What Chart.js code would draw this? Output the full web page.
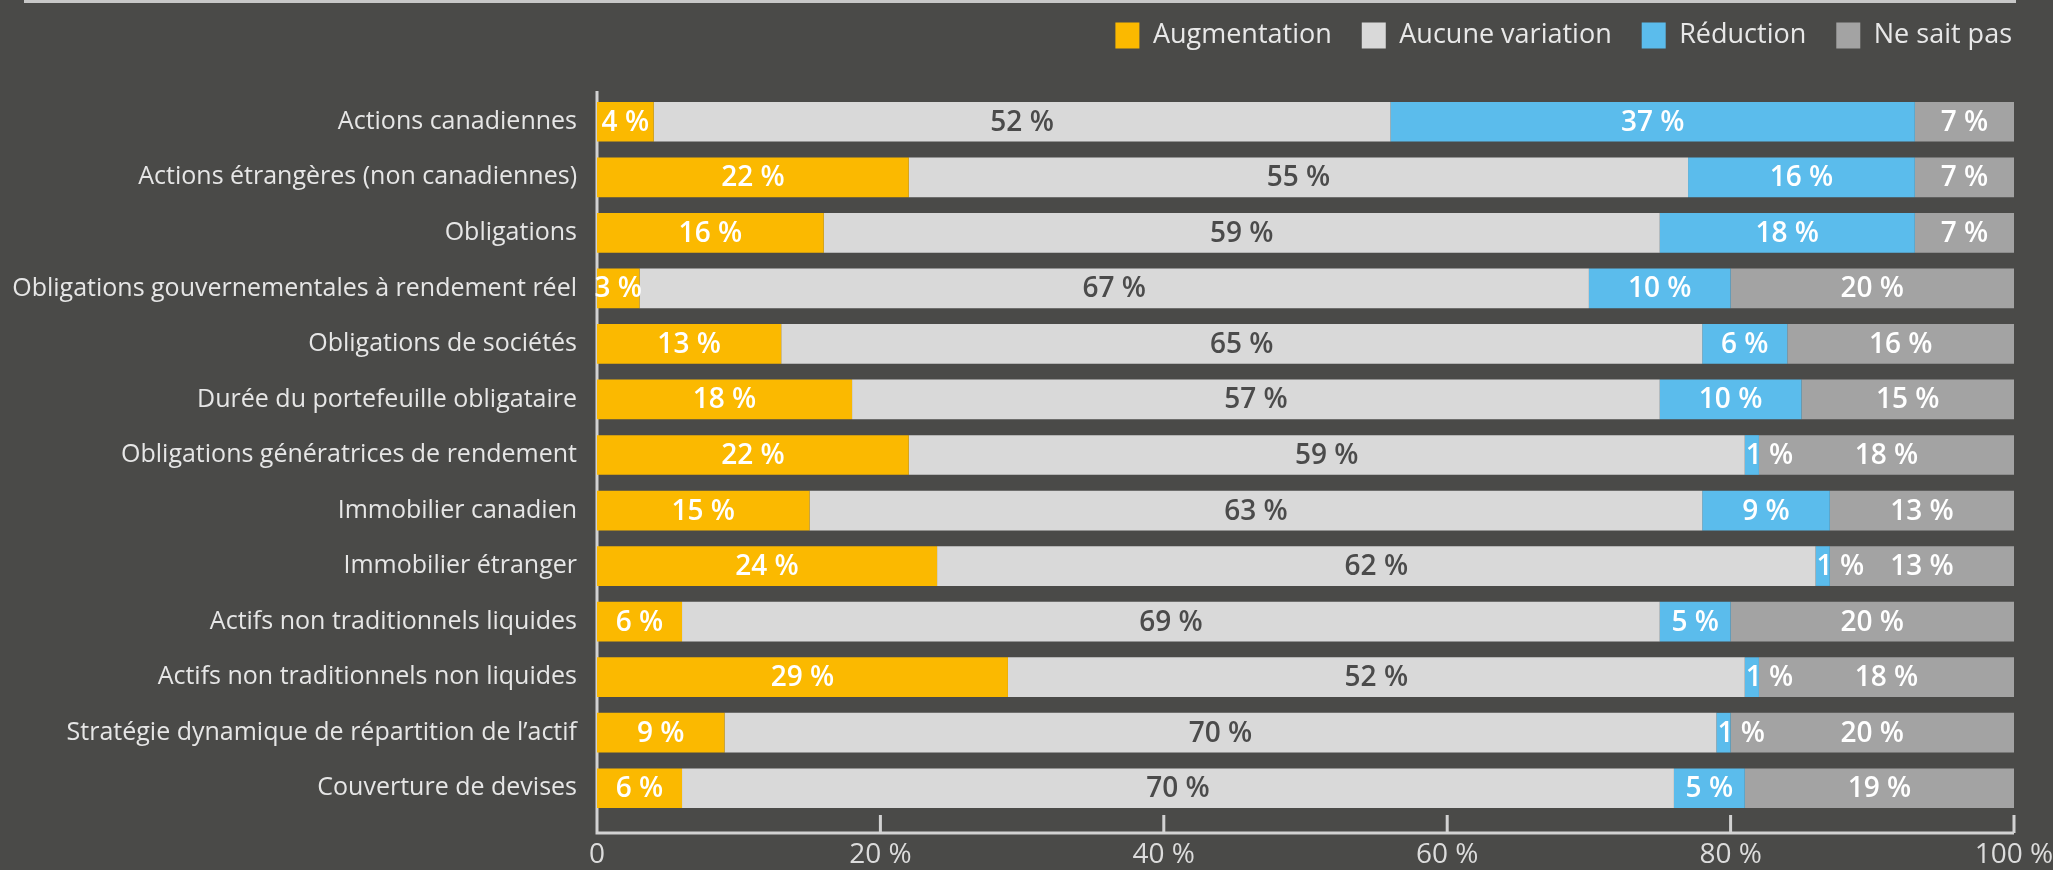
<!DOCTYPE html>
<html>
<head>
<meta charset="utf-8">
<script src="https://cdn.jsdelivr.net/npm/chart.js@4.4.0/dist/chart.umd.min.js"></script>
<style>
  html, body { margin: 0; padding: 0; background: #4a4a48; }
  #wrap { width: 2053px; height: 870px; }
</style>
</head>
<body>
<div id="wrap"><canvas id="chart" width="2053" height="870"></canvas></div>
<script>
const categories = [
    'Actions canadiennes',
    'Actions étrangères (non canadiennes)',
    'Obligations',
    'Obligations gouvernementales à rendement réel',
    'Obligations de sociétés',
    'Durée du portefeuille obligataire',
    'Obligations génératrices de rendement',
    'Immobilier canadien',
    'Immobilier étranger',
    'Actifs non traditionnels liquides',
    'Actifs non traditionnels non liquides',
    'Stratégie dynamique de répartition de l’actif',
    'Couverture de devises'
];
const augmentation    = [4, 22, 16, 3, 13, 18, 22, 15, 24, 6, 29, 9, 6];
const aucuneVariation = [52, 55, 59, 67, 65, 57, 59, 63, 62, 69, 52, 70, 70];
const reduction       = [37, 16, 18, 10, 6, 10, 1, 9, 1, 5, 1, 1, 5];
const neSaitPas       = [7, 7, 7, 20, 16, 15, 18, 13, 13, 20, 18, 20, 19];

const seriesNames  = ['Augmentation', 'Aucune variation', 'Réduction', 'Ne sait pas'];
const seriesValues = [augmentation, aucuneVariation, reduction, neSaitPas];
const seriesColors = ['#fbb900', '#d9d9d9', '#5bbcec', '#a3a3a3'];
const labelColors  = ['#ffffff', '#4b4b4b', '#ffffff', '#ffffff'];

const FONT = '"Open Sans", "DejaVu Sans", sans-serif';
const LINE = '#d2d2d2';

// axis frame with inward tick marks, sitting a little below the bars
const axisFrame = {
    id: 'axisFrame',
    beforeDraw(chart) {
        const { ctx } = chart;
        ctx.save();
        ctx.fillStyle = '#4a4a48';
        ctx.fillRect(0, 0, chart.width, chart.height);
        ctx.fillStyle = '#c8c8c8';
        ctx.fillRect(24, 0, chart.scales.x.right - 22, 3);
        ctx.restore();
    },
    beforeDatasetsDraw(chart) {
        const { ctx, chartArea } = chart;
        const xs = chart.scales.x;
        const y0 = chartArea.bottom + 17;
        const x0 = xs.getPixelForValue(0);
        ctx.save();
        ctx.strokeStyle = LINE;
        ctx.lineWidth = 3;
        ctx.beginPath();
        ctx.moveTo(x0, chartArea.top - 3);
        ctx.lineTo(x0, y0);
        ctx.lineTo(xs.right, y0);
        xs.ticks.forEach(t => {
            const px = xs.getPixelForValue(t.value);
            ctx.moveTo(px, y0);
            ctx.lineTo(px, y0 - 18);
        });
        ctx.stroke();
        ctx.restore();
    }
};

// percentage written inside each segment
const segmentLabels = {
    id: 'segmentLabels',
    afterDatasetsDraw(chart) {
        const { ctx } = chart;
        ctx.save();
        ctx.font = '600 28px ' + FONT;
        ctx.textBaseline = 'middle';
        chart.data.datasets.forEach((ds, i) => {
            const meta = chart.getDatasetMeta(i);
            ctx.fillStyle = labelColors[i];
            meta.data.forEach((bar, j) => {
                const v = ds.data[j];
                const left = Math.min(bar.base, bar.x);
                const right = Math.max(bar.base, bar.x);
                if (v <= 1) {
                    ctx.textAlign = 'left';
                    ctx.fillText(v + ' %', left + 1, bar.y + 1);
                } else {
                    ctx.textAlign = 'center';
                    ctx.fillText(v + ' %', (left + right) / 2, bar.y + 1);
                }
            });
        });
        ctx.restore();
    }
};

const legendHeight = {
    id: 'legendHeight',
    beforeInit(chart) {
        const fit = chart.legend.fit;
        chart.legend.fit = function () {
            fit.call(this);
            this.height = 102;
        };
    }
};

new Chart(document.getElementById('chart'), {
    type: 'bar',
    data: {
        labels: categories,
        datasets: seriesNames.map((name, i) => ({
            label: name,
            data: seriesValues[i],
            backgroundColor: seriesColors[i],
            borderWidth: 0,
            barPercentage: 0.715,
            categoryPercentage: 1
        }))
    },
    options: {
        indexAxis: 'y',
        responsive: false,
        animation: false,
        layout: { padding: { top: -8, right: 11, bottom: 0, left: 0 } },
        plugins: {
            legend: {
                position: 'top',
                align: 'end',
                labels: {
                    boxWidth: 24,
                    boxHeight: 26,
                    padding: 30,
                    color: '#e8e8e8',
                    font: { family: FONT, size: 27 }
                }
            },
            tooltip: { enabled: false }
        },
        scales: {
            x: {
                stacked: true,
                min: 0,
                max: 100,
                grid: { display: false },
                border: { display: false },
                afterFit(scale) {
                    scale.height = 54;
                    scale.paddingRight = 39;
                    scale.paddingLeft = 0;
                },
                ticks: {
                    stepSize: 20,
                    padding: 14,
                    color: '#dcdcdc',
                    font: { family: FONT, size: 28 },
                    callback: v => v === 0 ? '0' : v + ' %'
                }
            },
            y: {
                stacked: true,
                grid: { display: false },
                border: { display: false },
                afterFit(scale) { scale.width = 597; },
                ticks: {
                    padding: 12,
                    color: '#e6e6e6',
                    font: { family: FONT, size: 25 }
                }
            }
        }
    },
    plugins: [axisFrame, segmentLabels, legendHeight]
});
</script>
</body>
</html>
